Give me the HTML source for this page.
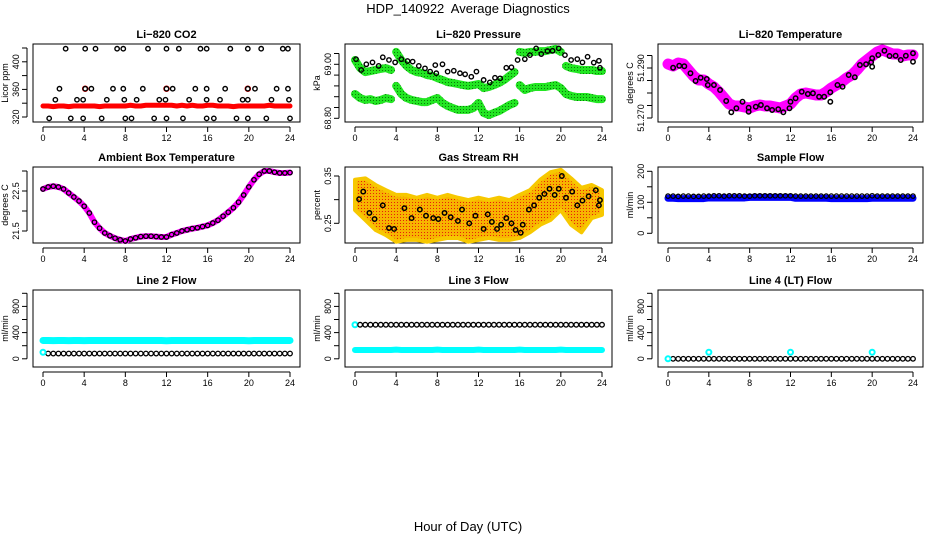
<!DOCTYPE html>
<html><head><meta charset="utf-8">
<style>
html,body{margin:0;padding:0;background:#fff;}
svg{display:block;font-family:"Liberation Sans",Arial,sans-serif;}
</style></head>
<body>
<svg id="chart" width="936" height="540" viewBox="0 0 936 540" xmlns="http://www.w3.org/2000/svg">
<defs>
<pattern id="rhdots" width="3" height="3" patternUnits="userSpaceOnUse"><rect width="3" height="3" fill="#f7b400"/><rect x="1" y="1" width="1" height="1" fill="#e8200a"/></pattern>
<pattern id="grdots" width="3" height="3" patternUnits="userSpaceOnUse"><rect width="3" height="3" fill="#22e622"/><rect x="1" y="1" width="1" height="1" fill="#0a7a0a"/></pattern>
</defs>
<text x="468" y="13" text-anchor="middle" font-size="13">HDP_140922&#160; Average Diagnostics</text>
<text x="468" y="531" text-anchor="middle" font-size="13">Hour of Day (UTC)</text>
</svg>
<script>
// ---------- data ----------
const halfHours = [0,0.5,1,1.5,2,2.5,3,3.5,4,4.5,5,5.5,6,6.5,7,7.5,8,8.5,9,9.5,10,10.5,11,11.5,12,12.5,13,13.5,14,14.5,15,15.5,16,16.5,17,17.5,18,18.5,19,19.5,20,20.5,21,21.5,22,22.5,23,23.5,24];
const hours = [0,1,2,3,4,5,6,7,8,9,10,11,12,13,14,15,16,17,18,19,20,21,22,23,24];
const xTickLabels = ["0","4","8","12","16","20","24"];

// CO2
const co2Hours = [2.2,4.1,5.1,7.2,7.8,10.2,12.0,13.2,15.3,15.9,18.2,19.9,21.2,23.3,23.8,
 1.6,4.1,4.7,6.8,7.8,9.7,12.0,12.6,14.8,15.9,17.7,19.9,20.6,22.7,23.8,
 1.2,3.3,3.9,6.2,7.9,9.1,11.3,11.9,14.2,15.9,17.2,19.4,19.9,22.2,23.9,
 0.6,2.7,3.9,5.7,8.0,8.6,10.8,12.0,13.6,15.9,16.6,18.8,19.9,21.7,24.0];
const co2Vals = [419,419,419,419,419,419,419,419,419,419,419,419,419,419,419,
 361,361,361,361,361,361,361,361,361,361,361,361,361,361,361,
 345,345,345,345,345,345,345,345,345,345,345,345,345,345,345,
 318,318,318,318,318,318,318,318,318,318,318,318,318,318,318];
const co2Red = [336,336,335,336,336,335,336,336,336,336,336,335,336,336,336,336,336,337,336,336,337,337,337,337,337,337,336,337,336,337,336,336,337,337,336,336,336,335,336,336,336,336,336,336,337,336,336,336,336];
const co2RedSpikeHours = [4.1,12.0,19.9];
const co2RedSpikeVals = [361,361,361];

// Pressure
const presHours = [0.1,0.6,1.1,1.7,2.3,2.7,3.3,3.9,4.5,5.1,5.6,6.2,6.8,7.3,7.8,7.9,8.5,9.0,9.6,10.2,10.7,11.3,11.8,12.5,13.1,13.6,14.1,14.7,15.2,15.8,16.5,17.0,17.6,18.1,18.7,19.2,19.8,20.4,21.0,21.6,22.1,22.6,23.2,23.7,23.8];
const presBlack = [69.019,68.979,69.000,69.007,68.994,69.026,69.016,69.007,69.019,69.012,69.010,68.994,68.985,68.973,68.997,68.967,69.000,68.973,68.976,68.967,68.963,68.954,68.973,68.942,68.933,68.950,68.948,68.987,68.989,69.016,69.019,69.034,69.059,69.038,69.049,69.050,69.059,69.034,69.016,69.019,69.007,69.028,69.006,69.013,68.987];
const presGreenUpper = [69.016,68.986,68.971,68.975,68.979,68.983,68.986,68.979,69.046,69.016,68.994,68.979,68.971,68.968,68.960,68.957,68.949,68.942,68.934,68.931,68.927,68.923,68.920,68.923,68.927,68.912,68.916,68.923,68.931,68.942,68.957,68.971,69.046,69.042,69.046,69.046,69.049,69.049,69.053,69.057,69.046,68.994,68.986,68.983,68.979,68.979,68.979,68.975,68.975];
const presGreenLower = [68.890,68.875,68.868,68.871,68.864,68.868,68.875,68.871,68.920,68.890,68.875,68.868,68.864,68.860,68.860,68.868,68.875,68.857,68.846,68.838,68.831,68.831,68.831,68.838,68.857,68.820,68.812,68.820,68.827,68.838,68.849,68.857,68.923,68.905,68.912,68.916,68.916,68.916,68.920,68.923,68.912,68.890,68.883,68.879,68.879,68.879,68.875,68.871,68.871];

// Li-820 temperature
const ltHours = [0.5,1.1,1.6,2.2,2.7,3.2,3.8,3.9,4.5,5.1,5.7,6.2,6.7,7.3,7.9,7.9,8.6,9.1,9.7,10.2,10.8,11.3,11.9,12.0,12.5,13.1,13.7,14.2,14.8,15.3,15.9,15.9,16.6,17.1,17.7,18.3,18.8,19.4,19.9,20.0,20.0,20.6,21.2,21.7,22.3,22.8,23.3,24.0,24.0];
const ltBlack = [51.2901,51.2909,51.2907,51.2879,51.2848,51.2861,51.2856,51.2832,51.2832,51.2812,51.2768,51.2723,51.2739,51.2765,51.2741,51.2725,51.2745,51.2752,51.2739,51.2732,51.2735,51.2723,51.2739,51.2765,51.2779,51.2805,51.2796,51.2799,51.2785,51.2785,51.2765,51.2803,51.2832,51.2825,51.2872,51.2863,51.2912,51.2915,51.2923,51.2905,51.2939,51.2952,51.2969,51.2948,51.2949,51.2932,51.2949,51.2925,51.2959];
const ltMagenta = [51.2916,51.2908,51.2920,51.2916,51.2892,51.2868,51.2852,51.2852,51.2836,51.2824,51.2804,51.2780,51.2756,51.2748,51.2748,51.2744,51.2740,51.2748,51.2752,51.2748,51.2748,51.2744,51.2740,51.2748,51.2756,51.2780,51.2796,51.2800,51.2796,51.2792,51.2792,51.2804,51.2820,51.2832,51.2844,51.2860,51.2872,51.2892,51.2916,51.2932,51.2948,51.2964,51.2972,51.2964,51.2956,51.2956,51.2948,51.2952,51.2952];

// Ambient box temperature
const ambVals = [22.55,22.60,22.62,22.60,22.55,22.45,22.35,22.25,22.12,21.95,21.72,21.57,21.45,21.38,21.32,21.28,21.25,21.30,21.33,21.36,21.37,21.37,21.36,21.35,21.35,21.41,21.45,21.50,21.53,21.56,21.58,21.61,21.64,21.70,21.77,21.87,21.97,22.08,22.22,22.40,22.60,22.78,22.92,23.00,23.00,22.97,22.95,22.95,22.96];

// Gas stream RH
const rhHours = [0.4,0.8,1.4,1.9,2.7,3.3,3.8,4.8,5.5,6.3,6.9,7.6,8.1,8.7,9.3,10.0,10.4,11.1,11.7,12.5,12.9,13.3,13.8,14.2,14.7,15.2,15.6,16.1,16.3,16.9,17.4,17.9,18.4,18.9,19.4,19.8,20.1,20.5,21.1,21.6,22.1,22.7,23.4,23.7,23.8];
const rhBlack = [0.301,0.317,0.272,0.259,0.288,0.240,0.238,0.282,0.261,0.279,0.266,0.261,0.259,0.272,0.263,0.255,0.279,0.250,0.266,0.238,0.269,0.253,0.238,0.247,0.261,0.250,0.236,0.230,0.247,0.279,0.288,0.304,0.312,0.323,0.310,0.323,0.350,0.304,0.317,0.288,0.298,0.307,0.320,0.288,0.299];
const rhUpper = [0.342,0.345,0.331,0.320,0.310,0.310,0.304,0.310,0.304,0.310,0.304,0.299,0.304,0.299,0.304,0.299,0.310,0.320,0.342,0.358,0.363,0.345,0.325,0.331,0.320];
const rhLower = [0.278,0.257,0.236,0.225,0.211,0.215,0.215,0.211,0.215,0.219,0.219,0.211,0.215,0.219,0.215,0.215,0.219,0.231,0.247,0.257,0.278,0.247,0.231,0.261,0.268];

// Sample flow
const sfBlack = [120,120,119,120,120,119,119,120,120,121,121,120,121,121,121,120,120,121,121,121,121,121,121,121,121,120,120,120,120,120,120,120,120,120,120,120,120,120,120,120,121,120,120,120,120,120,120,120,120];
const sfBlue = [113,113,112,112,112,112,112,112,114,114,114,114,114,114,114,114,116,116,116,116,116,116,116,116,116,113,113,113,113,113,113,113,112,112,112,112,112,112,112,112,113,113,113,113,113,113,113,113,113];

// Line flows
const l2Cyan = [280,280,278,280,280,278,280,280,278,280,280,279,280,280,280,280,280,280,280,279,280,280,280,280,275,280,280,280,280,280,280,280,280,280,280,280,280,280,280,280,275,280,280,280,280,280,280,280,280];
const l2Black = [80,80,80,80,80,80,80,80,80,80,80,80,80,80,80,80,80,80,80,80,80,80,80,80,80,80,80,80,80,80,80,80,80,80,80,80,80,80,80,80,80,80,80,80,80,80,80,80,80];
const l3Black = [520,520,520,520,520,520,520,520,520,520,520,520,520,520,520,520,520,520,520,520,520,520,520,520,520,520,520,520,520,520,520,520,520,520,520,520,520,520,520,520,520,520,520,520,520,520,520,520,520];
const l3Cyan = [135,135,135,135,135,135,135,135,140,135,135,135,135,135,135,135,140,135,135,135,135,135,135,135,140,135,135,135,135,135,135,135,140,135,135,135,135,135,135,135,140,135,135,135,135,135,135,135,135];
const l4Black = [0,0,0,0,0,0,0,0,0,0,0,0,0,0,0,0,0,0,0,0,0,0,0,0,0,0,0,0,0,0,0,0,0,0,0,0,0,0,0,0,0,0,0,0,0,0,0,0,0];
const l4CyanHours = [0,4,12,20];
const l4CyanVals = [0,100,100,100];

// ---------- drawing ----------
const svg = document.getElementById('chart');
const NS = 'http://www.w3.org/2000/svg';
function mk(tag, attrs, parent){
  const e = document.createElementNS(NS, tag);
  for (const k in attrs) e.setAttribute(k, attrs[k]);
  (parent||svg).appendChild(e);
  return e;
}
const cols = [[33,300],[345,612],[658,923]];
const rows = [[44,122],[167,243],[290,367]];

function panel(c, r, title, ylab, yfn, yTicks, yLabels, name){
  const [x0,x1] = cols[c], [y0,y1] = rows[r];
  const g = mk('g', {});
  
  
  const xfn = h => x0 + 10 + h * (x1 - x0 - 20) / 24;
  const t = mk('text', {x:(x0+x1)/2, y:y0-6, 'text-anchor':'middle', 'font-size':'11', 'font-weight':'bold'}, g);
  t.textContent = title;
  
  
  const box = mk('rect', {x:x0, y:y0, width:x1-x0, height:y1-y0, fill:'none', stroke:'#000', 'stroke-width':1}, g);
  
  
  const xa = mk('g', {}, g);
  
  
  mk('line', {x1:xfn(0), x2:xfn(24), y1:y1+5, y2:y1+5, stroke:'#000'}, xa);
  xTickLabels.forEach((lab,i) => {
    const xx = xfn(i*4);
    mk('line', {x1:xx, x2:xx, y1:y1+5, y2:y1+10, stroke:'#000'}, xa);
    const tl = mk('text', {x:xx, y:y1+19, 'text-anchor':'middle', 'font-size':'9'}, xa);
    tl.textContent = lab;
  });
  const ya = mk('g', {}, g);
  
  
  mk('line', {x1:x0-6, x2:x0-6, y1:yfn(yTicks[0]), y2:yfn(yTicks[yTicks.length-1]), stroke:'#000'}, ya);
  yTicks.forEach((v,i) => {
    const yy = yfn(v);
    mk('line', {x1:x0-11, x2:x0-6, y1:yy, y2:yy, stroke:'#000'}, ya);
    if (yLabels[i]) {
      const tl = mk('text', {x:0, y:0, 'text-anchor':'middle', 'font-size':'9', transform:`translate(${x0-14},${yy}) rotate(-90)`}, ya);
      tl.textContent = yLabels[i];
    }
  });
  const yt = mk('text', {x:0, y:0, 'text-anchor':'middle', 'font-size':'9', transform:`translate(${x0-25},${(y0+y1)/2}) rotate(-90)`}, g);
  yt.textContent = ylab;
  
  
  const plot = mk('g', {}, g);
  return {g:plot, xfn, yfn};
}
function circles(p, xs, ys, stroke, r, sw, name){
  const grp = mk('g', {}, p.g);
  
  
  xs.forEach((h,i) => {
    mk('circle', {cx:p.xfn(h), cy:p.yfn(ys[i]), r:r, fill:'none', stroke:stroke, 'stroke-width':sw}, grp);
  });
}
function band(p, xs, ys, color, width, name, breakPx){
  const grp = mk('g', {}, p.g);
  
  
  let seg = [];
  const flush = () => { if (seg.length) mk('polyline', {points:seg.join(' '), fill:'none', stroke:color, 'stroke-width':width, 'stroke-linecap':'round', 'stroke-linejoin':'round'}, grp); seg = []; };
  xs.forEach((h,i) => {
    const X = p.xfn(h), Y = p.yfn(ys[i]);
    if (seg.length && breakPx) {
      const prevY = parseFloat(seg[seg.length-1].split(',')[1]);
      if (Math.abs(prevY - Y) > breakPx) flush();
    }
    seg.push(X + ',' + Y);
  });
  flush();
}

const p1 = panel(0,0,'Li\u2212820 CO2','Licor ppm', v => 117 - (v-320)*0.69, [320,340,360,380,400,420], ['320','','360','','400',''], 'co2');
band(p1, halfHours, co2Red, '#ff0000', 5, 'co2-red-series');
circles(p1, co2RedSpikeHours, co2RedSpikeVals, '#ff0000', 2.5, 1.5, 'co2-red-spikes');
circles(p1, co2Hours, co2Vals, '#000', 2.2, 1.4, 'co2-black-series');

const p2 = panel(1,0,'Li\u2212820 Pressure','kPa', v => 118.3 - (v-68.80)*270, [68.80,68.84,68.88,68.92,68.96,69.00,69.04], ['68.80','','','','','69.00',''], 'pressure');
band(p2, halfHours, presGreenUpper, 'url(#grdots)', 8, 'pressure-green-upper', 10);
band(p2, halfHours, presGreenLower, 'url(#grdots)', 8, 'pressure-green-lower', 10);
circles(p2, presHours, presBlack, '#000', 2.2, 1.4, 'pressure-black-series');

const p3 = panel(2,0,'Li\u2212820 Temperature','degrees C', v => 118 - (v-51.27)*2500, [51.270,51.275,51.280,51.285,51.290,51.295], ['51.270','','','','51.290',''], 'li820-temp');
band(p3, halfHours, ltMagenta, '#ff00ff', 11, 'li820-temp-magenta');
circles(p3, ltHours, ltBlack, '#000', 2.2, 1.5, 'li820-temp-black');

const p4 = panel(0,1,'Ambient Box Temperature','degrees C', v => 231 - (v-21.5)*40, [21.5,22.0,22.5,23.0], ['21.5','','22.5',''], 'ambient');
band(p4, halfHours, ambVals, '#ff00ff', 6, 'ambient-magenta');
circles(p4, halfHours, ambVals, '#000', 2.2, 1.3, 'ambient-black');

const p5 = panel(1,1,'Gas Stream RH','percent', v => 176 - (v-0.35)*473, [0.25,0.30,0.35], ['0.25','','0.35'], 'rh');
{
  const pts = hours.map((h,i)=>p5.xfn(h)+','+p5.yfn(rhUpper[i]))
    .concat(hours.slice().reverse().map((h,j)=>{const i=hours.length-1-j;return p5.xfn(h)+','+p5.yfn(rhLower[i]);}));
  const poly = mk('polygon', {points:pts.join(' '), fill:'url(#rhdots)', stroke:'#f7c800', 'stroke-width':4, 'stroke-linejoin':'round'}, p5.g);
  
  
}
circles(p5, rhHours, rhBlack, '#000', 2.2, 1.5, 'rh-black-series');

const p6 = panel(2,1,'Sample Flow','ml/min', v => 233.3 - v*0.31, [0,50,100,150,200], ['0','','100','','200'], 'sample-flow');
band(p6, halfHours, sfBlue, '#0000ff', 7, 'sample-flow-blue');
circles(p6, halfHours, sfBlack, '#000', 2.2, 1.3, 'sample-flow-black');

const fy = v => 358.8 - v*0.0655;
const fT = [0,200,400,600,800,1000], fL = ['0','','400','','800',''];
const p7 = panel(0,2,'Line 2 Flow','ml/min', fy, fT, fL, 'line2-flow');
band(p7, halfHours, l2Cyan, '#00ffff', 7, 'line2-cyan');
circles(p7, halfHours.slice(1), l2Black.slice(1), '#000', 2.3, 1.3, 'line2-black');
circles(p7, [0], [100], '#00ffff', 2.5, 2, 'line2-cyan-start');

const p8 = panel(1,2,'Line 3 Flow','ml/min', fy, fT, fL, 'line3-flow');
band(p8, halfHours, l3Cyan, '#00ffff', 6, 'line3-cyan');
circles(p8, [0], [520], '#00ffff', 2.5, 2, 'line3-cyan-start');
circles(p8, halfHours.slice(1), l3Black.slice(1), '#000', 2.3, 1.3, 'line3-black');

const p9 = panel(2,2,'Line 4 (LT) Flow','ml/min', fy, fT, fL, 'line4-flow');
circles(p9, halfHours.slice(1), l4Black.slice(1), '#000', 2.3, 1.3, 'line4-black');
circles(p9, l4CyanHours, l4CyanVals, '#00ffff', 2.5, 2, 'line4-cyan');
</script>
</body></html>
